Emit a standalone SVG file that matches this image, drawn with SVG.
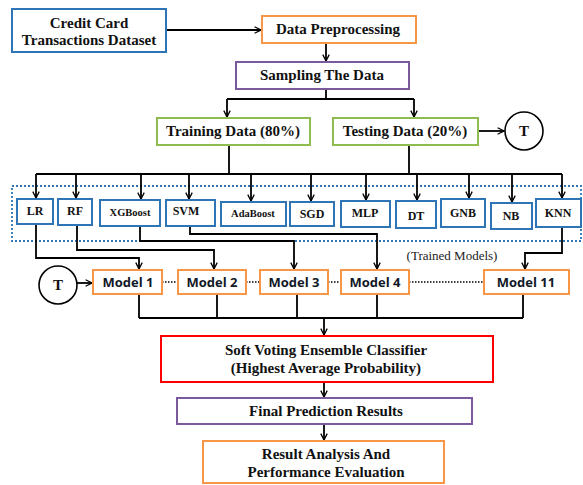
<svg xmlns="http://www.w3.org/2000/svg" width="583" height="485" viewBox="0 0 583 485">
<defs>
<marker id="ah" viewBox="0 0 10 10" refX="9" refY="5" markerWidth="8" markerHeight="8" markerUnits="userSpaceOnUse" orient="auto">
<path d="M1,1 L9,5 L1,9" fill="none" stroke="#000" stroke-width="1.6"/>
</marker>
<style>
.t{font-family:"Liberation Serif","Times New Roman",serif;font-weight:bold;font-size:15px;fill:#111;text-anchor:middle}
.s{font-family:"Liberation Serif","Times New Roman",serif;font-weight:bold;font-size:12px;fill:#111;text-anchor:middle}
.xs{font-size:10.5px}
.m{font-family:"Open Sans","Liberation Sans",sans-serif;font-weight:bold;font-size:13px;fill:#111827;text-anchor:middle}
.blue{fill:#fff;stroke:#2e75b6;stroke-width:2}
.orange{fill:#fff;stroke:#f79646;stroke-width:2}
.purple{fill:#fff;stroke:#7a5a9c;stroke-width:2}
.green{fill:#fff;stroke:#8fbc4f;stroke-width:2}
.red{fill:#fff;stroke:#ff0000;stroke-width:2}
.ln{fill:none;stroke:#000;stroke-width:1.8}
.ar{fill:none;stroke:#000;stroke-width:1.8;marker-end:url(#ah)}
.dot{fill:none;stroke:#000;stroke-width:1.5;stroke-dasharray:1.5 1.5}
.circ{fill:#fff;stroke:#000;stroke-width:1.6}
</style>
</defs>
<rect width="583" height="485" fill="#fff"/>

<rect x="12" y="186" width="569" height="55" fill="none" stroke="#2e75b6" stroke-width="1.8" stroke-dasharray="2 2"/>

<g id="connectors">
<path class="ar" d="M166,30 H261"/>
<path class="ar" d="M326,43 V61"/>
<path class="ln" d="M326,89 V99 M227,99 H414"/>
<path class="ar" d="M227,99 V117"/>
<path class="ar" d="M414,99 V117"/>
<path class="ar" d="M478,131 H504"/>
<path class="ln" d="M229,145 V174 M409,145 V174 M36,174 H562"/>
<path class="ar" d="M36,174 V198"/>
<path class="ar" d="M76,174 V198"/>
<path class="ar" d="M141,174 V199"/>
<path class="ar" d="M189,174 V199"/>
<path class="ar" d="M251,174 V201"/>
<path class="ar" d="M311,174 V201"/>
<path class="ar" d="M366,174 V200"/>
<path class="ar" d="M417,174 V200"/>
<path class="ar" d="M469,174 V198"/>
<path class="ar" d="M512,174 V202"/>
<path class="ar" d="M562,174 V198"/>
<path class="ar" d="M36,224 V258 H139 V269"/>
<path class="ar" d="M77,225 V250 H214 V269"/>
<path class="ar" d="M140,226 V241 H294 V269"/>
<path class="ar" d="M190,226 V234 H377 V269"/>
<path class="ar" d="M562,227 V253 H525 V269"/>
<path class="ar" d="M77,283 H92"/>
<path class="dot" d="M162,282 H178 M246,282 H260 M328,282 H341 M409,282 H484"/>
<path class="ln" d="M139,294 V318 M217,294 V318 M297,294 V318 M377,294 V318 M523,294 V318 M139,318 H523"/>
<path class="ar" d="M324,318 V335"/>
<path class="ar" d="M324,382 V397"/>
<path class="ar" d="M324,424 V440"/>
</g>

<g id="dataset"><rect class="blue" x="12" y="9" width="154" height="43"/><text class="t" x="89" y="28">Credit Card</text><text class="t" x="89" y="45">Transactions Dataset</text></g>
<g id="preprocessing"><rect class="orange" x="262" y="16" width="154" height="27"/><text class="t" x="338" y="34">Data Preprocessing</text></g>
<g id="sampling"><rect class="purple" x="236" y="62" width="173" height="27"/><text class="t" x="322" y="80">Sampling The Data</text></g>
<g id="training"><rect class="green" x="157" y="118" width="153" height="27"/><text class="t" x="233" y="136">Training Data (80%)</text></g>
<g id="testing"><rect class="green" x="333" y="118" width="145" height="27"/><text class="t" x="405" y="136">Testing Data (20%)</text></g>
<g id="t-top"><circle class="circ" cx="524" cy="131" r="19"/><text class="t" x="524" y="136">T</text></g>

<g id="lr"><rect class="blue" x="17" y="199" width="36" height="25"/><text class="s" x="35" y="215">LR</text></g>
<g id="rf"><rect class="blue" x="58" y="199" width="34" height="26"/><text class="s" x="75" y="215">RF</text></g>
<g id="xgboost"><rect class="blue" x="100" y="200" width="60" height="26"/><text class="s xs" x="130" y="216">XGBoost</text></g>
<g id="svm"><rect class="blue" x="166" y="200" width="49" height="26"/><text class="s" x="186" y="215">SVM</text></g>
<g id="adaboost"><rect class="blue" x="221" y="202" width="65" height="24"/><text class="s xs" x="253" y="217">AdaBoost</text></g>
<g id="sgd"><rect class="blue" x="290" y="202" width="44" height="24"/><text class="s" x="312" y="218">SGD</text></g>
<g id="mlp"><rect class="blue" x="341" y="201" width="49" height="26"/><text class="s" x="365" y="217">MLP</text></g>
<g id="dt"><rect class="blue" x="396" y="201" width="40" height="27"/><text class="s" x="416" y="220">DT</text></g>
<g id="gnb"><rect class="blue" x="441" y="199" width="44" height="28"/><text class="s" x="463" y="217">GNB</text></g>
<g id="nb"><rect class="blue" x="491" y="203" width="41" height="26"/><text class="s" x="511" y="220">NB</text></g>
<g id="knn"><rect class="blue" x="536" y="199" width="45" height="28"/><text class="s" x="558" y="217">KNN</text></g>

<text x="452" y="260" font-family="Liberation Serif, serif" font-size="13" fill="#222" text-anchor="middle">(Trained Models)</text>

<g id="t-left"><circle class="circ" cx="58" cy="285" r="19"/><text class="t" x="58" y="290">T</text></g>
<g id="model1"><rect class="orange" x="93" y="270" width="69" height="24"/><text class="m" x="128" y="287">Model 1</text></g>
<g id="model2"><rect class="orange" x="178" y="270" width="68" height="24"/><text class="m" x="212" y="287">Model 2</text></g>
<g id="model3"><rect class="orange" x="260" y="270" width="68" height="24"/><text class="m" x="294" y="287">Model 3</text></g>
<g id="model4"><rect class="orange" x="341" y="270" width="68" height="24"/><text class="m" x="375" y="287">Model 4</text></g>
<g id="model11"><rect class="orange" x="484" y="270" width="85" height="24"/><text class="m" x="526" y="287">Model 11</text></g>

<g id="soft-voting"><rect class="red" x="161" y="336" width="332" height="46"/><text class="t" x="326" y="355">Soft Voting Ensemble Classifier</text><text class="t" x="326" y="373">(Highest Average Probability)</text></g>
<g id="final"><rect class="purple" x="177" y="398" width="295" height="26"/><text class="t" x="326" y="416">Final Prediction Results</text></g>
<g id="result"><rect class="orange" x="203" y="441" width="241" height="42"/><text class="t" x="326" y="459">Result Analysis And</text><text class="t" x="326" y="477">Performance Evaluation</text></g>
</svg>
